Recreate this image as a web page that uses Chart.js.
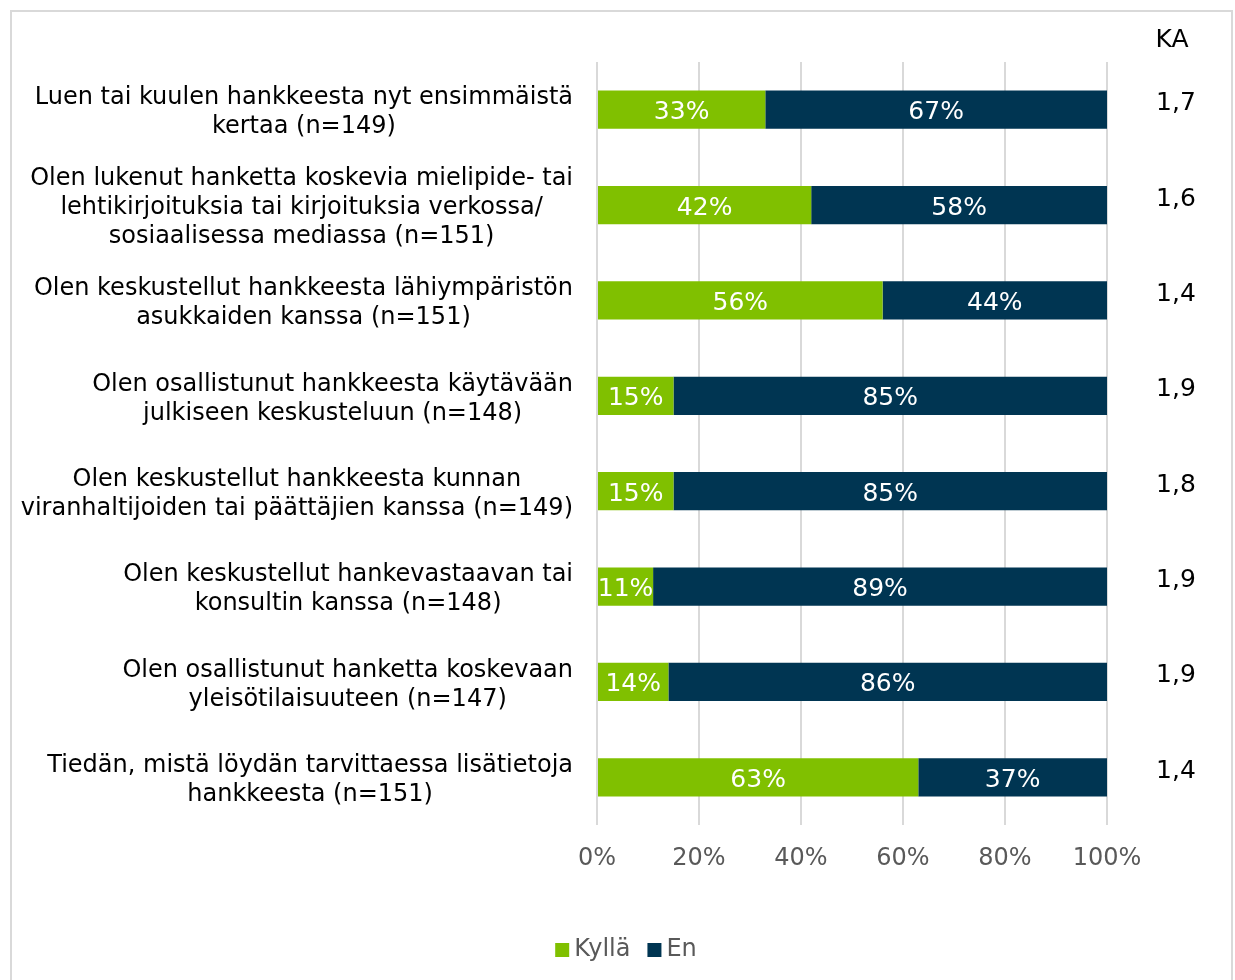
<!DOCTYPE html>
<html>
<head>
<meta charset="utf-8">
<script src="https://cdn.jsdelivr.net/npm/chart.js@4"></script>
<style>
  body { margin: 0; background: #fff; }
  #wrap { width: 1235px; height: 980px; }
</style>
</head>
<body>
<div id="wrap"><canvas id="grafico" width="1235" height="980"></canvas></div>
<script>
var kategoriat = [
    ['Luen tai kuulen hankkeesta nyt ensimmäistä', 'kertaa (n=149)'],
    ['Olen lukenut hanketta koskevia mielipide- tai', 'lehtikirjoituksia tai kirjoituksia verkossa/', 'sosiaalisessa mediassa (n=151)'],
    ['Olen keskustellut hankkeesta lähiympäristön', 'asukkaiden kanssa (n=151)'],
    ['Olen osallistunut hankkeesta käytävään', 'julkiseen keskusteluun (n=148)'],
    ['Olen keskustellut hankkeesta kunnan', 'viranhaltijoiden tai päättäjien kanssa (n=149)'],
    ['Olen keskustellut hankevastaavan tai', 'konsultin kanssa (n=148)'],
    ['Olen osallistunut hanketta koskevaan', 'yleisötilaisuuteen (n=147)'],
    ['Tiedän, mistä löydän tarvittaessa lisätietoja', 'hankkeesta (n=151)']
];
var kylla = [33, 42, 56, 15, 15, 11, 14, 63];
var en = [67, 58, 44, 85, 85, 89, 86, 37];
var ka = [1.7, 1.6, 1.4, 1.9, 1.8, 1.9, 1.9, 1.4];
var xTicks = [0, 20, 40, 60, 80, 100];

var fontti = 'Verdana, "DejaVu Sans", sans-serif';

// reunus, kategoriatekstit, prosentit palkeissa, KA-sarake ja selite
var omatPiirrot = {
    id: 'omatPiirrot',
    beforeDraw: function (chart) {
        var ctx = chart.ctx;
        ctx.save();
        ctx.strokeStyle = '#d9d9d9';
        ctx.lineWidth = 2;
        ctx.strokeRect(11, 11, 1221, 975);
        ctx.restore();
    },
    afterDatasetsDraw: function (chart) {
        var ctx = chart.ctx;
        var y = chart.scales.y;
        ctx.save();
        ctx.textBaseline = 'middle';

        // prosenttiluvut
        ctx.font = '25px ' + fontti;
        ctx.fillStyle = '#ffffff';
        ctx.textAlign = 'center';
        chart.data.datasets.forEach(function (ds, di) {
            chart.getDatasetMeta(di).data.forEach(function (bar, i) {
                var cx = (bar.x + bar.base) / 2;
                ctx.fillText(ds.data[i] + '%', cx, bar.y + 3);
            });
        });

        // kategoriat, rivit keskitetty omaan lohkoonsa, lohko oikealle
        ctx.font = '24px ' + fontti;
        ctx.fillStyle = '#000000';
        var lh = 29;
        kategoriat.forEach(function (rivit, i) {
            var cy = y.getPixelForValue(i) + 3;
            var leveys = 0;
            rivit.forEach(function (r) { leveys = Math.max(leveys, ctx.measureText(r).width); });
            var keski = chart.chartArea.left - 24 - leveys / 2;
            rivit.forEach(function (r, j) {
                ctx.fillText(r, keski, cy + (j - (rivit.length - 1) / 2) * lh);
            });
        });

        // KA
        ctx.font = '25px ' + fontti;
        ctx.fillText('KA', 1172, 40);
        ka.forEach(function (v, i) {
            ctx.fillText(v.toFixed(1).replace('.', ','), 1176, y.getPixelForValue(i) - 6);
        });

        // selite
        ctx.font = '24px ' + fontti;
        ctx.textAlign = 'left';
        var ds = chart.data.datasets;
        var leveydet = ds.map(function (d) { return 14 + 5 + ctx.measureText(d.label).width; });
        var vali = 17;
        var yhteensa = leveydet.reduce(function (a, b) { return a + b; }, 0) + vali * (ds.length - 1);
        var x = 626 - yhteensa / 2;
        var ly = 950;
        ds.forEach(function (d, i) {
            ctx.fillStyle = d.backgroundColor;
            ctx.fillRect(x, ly - 7, 14, 14);
            ctx.fillStyle = '#595959';
            ctx.fillText(d.label, x + 19, ly);
            x += leveydet[i] + vali;
        });
        ctx.restore();
    }
};

new Chart(document.getElementById('grafico'), {
    type: 'bar',
    data: {
        labels: kategoriat,
        datasets: [{
            label: 'Kyllä',
            data: kylla,
            backgroundColor: '#80c000',
            barPercentage: 0.4,
            categoryPercentage: 1
        }, {
            label: 'En',
            data: en,
            backgroundColor: '#003552',
            barPercentage: 0.4,
            categoryPercentage: 1
        }]
    },
    options: {
        indexAxis: 'y',
        responsive: false,
        animation: false,
        layout: { padding: { left: 10, right: 128, top: 62, bottom: 10 } },
        scales: {
            x: {
                stacked: true,
                min: 0,
                max: 100,
                afterBuildTicks: function (s) {
                    s.ticks = xTicks.map(function (v) { return { value: v }; });
                },
                afterFit: function (s) { s.height = 145; },
                grid: { color: '#d9d9d9', lineWidth: 2, drawTicks: false },
                border: { display: false },
                ticks: {
                    padding: 19,
                    color: '#595959',
                    font: { family: fontti, size: 24 },
                    callback: function (v) { return v + '%'; }
                }
            },
            y: {
                stacked: true,
                afterFit: function (s) { s.width = 587; },
                grid: { display: false },
                border: { display: false },
                ticks: { display: false }
            }
        },
        plugins: {
            legend: { display: false },
            tooltip: { enabled: false }
        }
    },
    plugins: [omatPiirrot]
});
</script>
</body>
</html>
